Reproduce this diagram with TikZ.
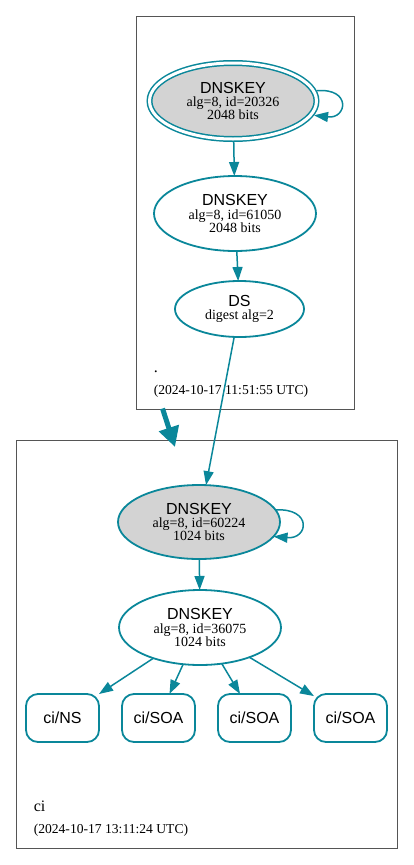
\documentclass[tikz,border=0pt]{standalone}
\usepackage{fontspec}
\setmainfont{Liberation Serif}
\newfontfamily\sansf{Liberation Sans}
\usetikzlibrary{arrows.meta,shapes.geometric,positioning,calc}
\definecolor{dnsteal}{HTML}{0A879A}
\definecolor{keygray}{HTML}{D3D3D3}
\definecolor{zoneline}{HTML}{555555}
\newcommand{\kname}[1]{{\sansf\fontsize{16}{16}\selectfont #1}}

\begin{document}
\begin{tikzpicture}[->, >={Triangle[length=14pt,width=10pt]}, x=1pt, y=-1pt, line width=1.5pt]
\tikzstyle{key}=[ellipse,draw=dnsteal,line width=1.8pt,inner sep=0pt,outer sep=0pt,align=center,text=black,font=\fontsize{14}{13.3}\selectfont,minimum width=162pt,minimum height=75pt]
\tikzstyle{trust}=[key,fill=keygray,double=white,double distance=3pt,line width=1.5pt,outer sep=3pt,minimum width=167pt,minimum height=76pt]
\tikzstyle{signed}=[key,fill=keygray,minimum height=74pt]
\tikzstyle{rrset}=[rectangle,rounded corners=12pt,draw=dnsteal,line width=1.8pt,inner sep=0pt,outer sep=0pt,minimum width=73pt,minimum height=48pt,text=black,font=\sansf\fontsize{16}{16}\selectfont]
\tikzstyle{zone}=[rectangle,draw=zoneline,line width=1pt,inner sep=0pt]
\tikzstyle{zonetext}=[anchor=base west,inner sep=0pt,text=black]
\useasboundingbox (0,0) rectangle (413,865);
% zones
\node[zone,minimum width=218pt,minimum height=393pt] (rootzone) at (245,212.5) {};
\node[zone,minimum width=381pt,minimum height=408pt] (cizone) at (206.5,644) {};
\node[zonetext,font=\fontsize{16}{16}\selectfont] (rootname) at (153,372) {.};
\node[zonetext,font=\fontsize{13.6}{14}\selectfont] (roottime) at (153,394) {(2024-10-17 11:51:55 UTC)};
\node[zonetext,font=\fontsize{16}{16}\selectfont] (ciname) at (33,811) {ci};
\node[zonetext,font=\fontsize{13.6}{14}\selectfont] (citime) at (33,833) {(2024-10-17 13:11:24 UTC)};
% root keys
\node[trust]  (rootksk) at (233,101)   {\kname{DNSKEY}\\alg=8, id=20326\\2048 bits};
\node[key]    (rootzsk) at (235,213.5) {\kname{DNSKEY}\\alg=8, id=61050\\2048 bits};
\node[key,minimum width=129pt,minimum height=56pt] (cids) at (239.5,309) {\kname{DS}\\digest alg=2};
% ci keys
\node[signed] (ciksk) at (199,522)   {\kname{DNSKEY}\\alg=8, id=60224\\1024 bits};
\node[key]    (cizsk) at (200,627.5) {\kname{DNSKEY}\\alg=8, id=36075\\1024 bits};
\node[rrset]  (cins) at (62.5,718)     {ci/NS};
\node[rrset]  (cisoa)[right=23pt of cins]  {ci/SOA};
\node[rrset]  (cisob)[right=23pt of cisoa] {ci/SOA};
\node[rrset]  (cisoc)[right=23pt of cisob] {ci/SOA};
\coordinate (deltip) at (175,447);
\path[dnsteal]
(rootksk) edge (rootzsk)
(rootzsk) edge (cids)
(cids)    edge (ciksk)
(ciksk)   edge (cizsk)
(cizsk)   edge (cins)
          edge (cisoa)
          edge (cisob)
          edge (cisoc);
% self signatures
\draw[dnsteal] (rootksk.7) .. controls +(35,-3) and +(33,4) .. (rootksk.-10);
\draw[dnsteal] (ciksk.9) .. controls +(37,-2) and +(35,3) .. (ciksk.-11);
% delegation
\draw[dnsteal,line width=5pt,-{Triangle[length=20pt,width=20pt]}] ($(rootzone.south west)+(27,-1)$) -- (deltip);
\end{tikzpicture}
\end{document}
